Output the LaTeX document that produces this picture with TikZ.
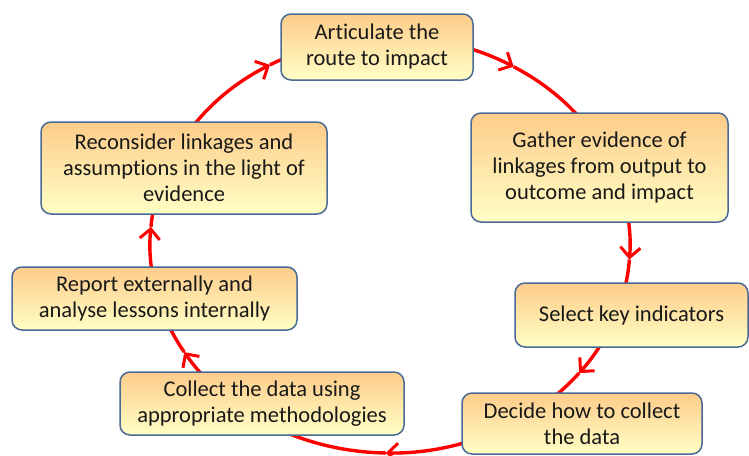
\documentclass[tikz,border=0pt]{standalone}
\usepackage{fontspec}
\setmainfont{Carlito}[Ligatures=NoCommon]
\usetikzlibrary{arrows.meta,backgrounds}
\definecolor{boxedge}{RGB}{74,106,150}
\definecolor{boxtop}{RGB}{253,204,138}
\definecolor{boxmid}{RGB}{255,243,162}
\definecolor{boxbot}{RGB}{255,255,198}
\definecolor{cycred}{RGB}{255,0,0}
\newcommand\cycarc[3]{%
  \draw[cycline,-{Straight Barb[length=10pt,width=20pt,line width=3pt]}] (C) ++(#1:240 and 208)
    arc[start angle=#1,end angle=#2,x radius=240,y radius=208];
  \draw[cycline] (C) ++(#2:240 and 208)
    arc[start angle=#2,end angle=#3,x radius=240,y radius=208];}
\begin{document}
\begin{tikzpicture}[x=1pt,y=-1pt,
  stepbox/.style={draw=boxedge,line width=1.5pt,rounded corners=10pt,
    top color=boxtop,middle color=boxmid,bottom color=boxbot,
    align=center,inner sep=0pt,font=\fontsize{22.5}{26}\selectfont,text=black!90},
  cycline/.style={draw=cycred,line width=3.4pt}]
\useasboundingbox (0,0) rectangle (749,455);
\coordinate (C) at (390,245);
\node[stepbox,minimum width=192pt,minimum height=66pt] (art) at (377,47) {Articulate the\\route to impact};
\node[stepbox,minimum width=257pt,minimum height=109pt] (gat) at (599.5,167.5) {Gather evidence of\\linkages from output to\\outcome and impact};
\node[stepbox,minimum width=233pt,minimum height=64pt] (sel) at (631.5,315) {Select key indicators};
\node[stepbox,minimum width=240pt,minimum height=61pt] (dec) at (582,423.5) {Decide how to collect\\the data};
\node[stepbox,minimum width=284pt,minimum height=63pt] (col) at (262,403.5) {Collect the data using\\appropriate methodologies};
\node[stepbox,minimum width=285pt,minimum height=63pt] (rep) at (154.5,298.5) {Report externally and\\analyse lessons internally};
\node[stepbox,minimum width=286pt,minimum height=92pt] (rec) at (184,168) {Reconsider linkages and\\assumptions in the light of\\evidence};
\begin{scope}[on background layer]
  \fill[white] (0,0) rectangle (749,455);
  \cycarc{-100}{-59}{-20}
  \cycarc{-20}{4}{20}
  \cycarc{20}{38}{60}
  \cycarc{60}{91}{125}
  \cycarc{125}{149}{165}
  \cycarc{165}{185}{200}
  \cycarc{200}{240}{265}
\end{scope}
\end{tikzpicture}
\end{document}
